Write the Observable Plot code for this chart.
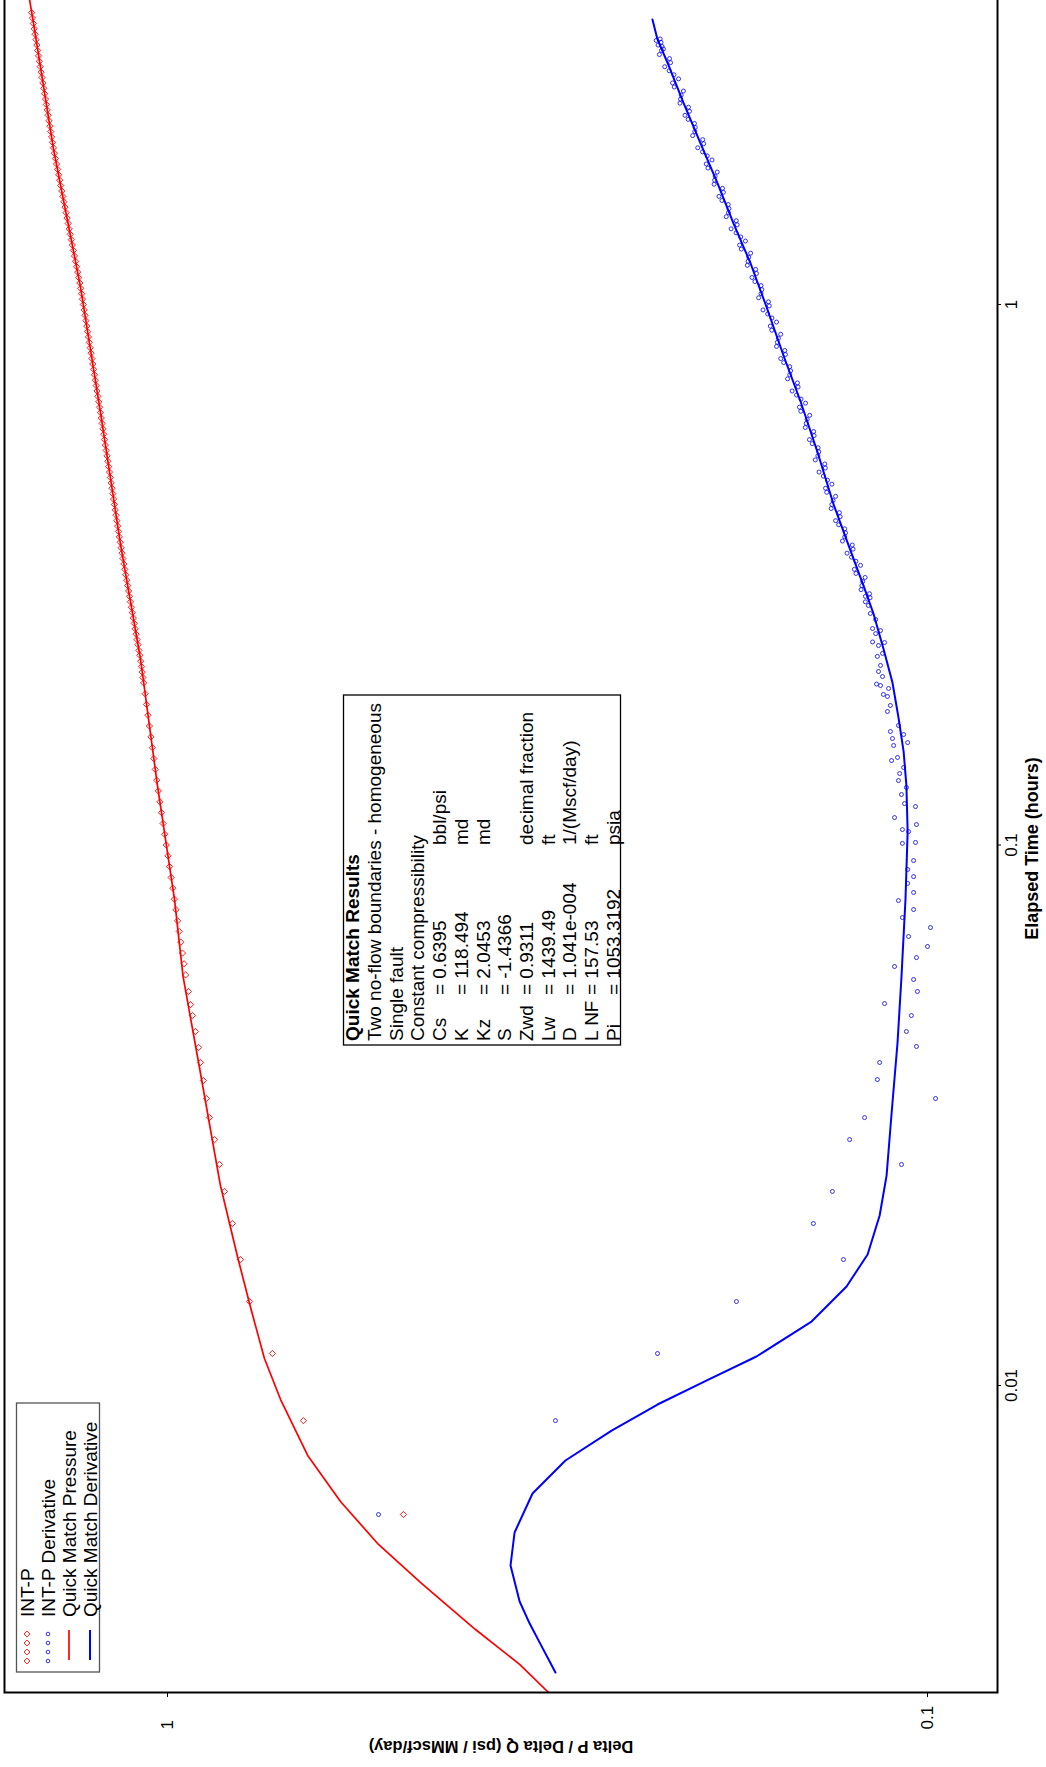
<!DOCTYPE html>
<html>
<head>
<meta charset="utf-8">
<script src="https://cdn.jsdelivr.net/npm/d3@7"></script>
<script src="https://cdn.jsdelivr.net/npm/@observablehq/plot@0.6"></script>
<style>
  html, body { margin: 0; padding: 0; background: #fff; }
  #wrap { position: relative; width: 1046px; height: 1767px; overflow: hidden; background: #fff; }
</style>
</head>
<body>
<div id="wrap"></div>
<script>
// ---------- DATA (elapsed time in hours, Delta P / Delta Q in psi / MMscf/day) ----------
const xTicks = [0.01, 0.1, 1];
const xTickLabels = ["0.01", "0.1", "1"];
const yTicks = [0.1, 1];
const yTickLabels = ["0.1", "1"];

const xTitle = "Elapsed Time (hours)";
const yTitle = "Delta P / Delta Q (psi / MMscf/day)";

const legendLabels = ["INT-P", "INT-P Derivative", "Quick Match Pressure", "Quick Match Derivative"];

const infoTitle = "Quick Match Results";
const infoLines = ["Two no-flow boundaries - homogeneous", "Single fault", "Constant compressibility"];
const paramNames = ["Cs", "K", "Kz", "S", "Zwd", "Lw", "D", "L NF", "Pi"];
const paramValues = ["= 0.6395", "= 118.494", "= 2.0453", "= -1.4366", "= 0.9311", "= 1439.49", "= 1.041e-004", "= 157.53", "= 1053.3192"];
const paramUnits = ["bbl/psi", "md", "md", "", "decimal fraction", "ft", "1/(Mscf/day)", "ft", "psia"];

// INT-P measured points [time, value]
const intP = [
[0.005771,0.4892],[0.00861,0.6624],[0.01146,0.7277],[0.0143,0.78],[0.0171,0.8016],[0.01994,0.8214],
[0.02286,0.8414],[0.02564,0.8543],[0.02851,0.8671],[0.03131,0.8806],[0.03396,0.8887],[0.03666,0.8968],
[0.03959,0.9049],[0.0422,0.9103],[0.04518,0.9187],[0.04836,0.927],[0.05068,0.9326],[0.05358,0.9384],
[0.0575,0.9465],[0.0603,0.951],[0.0631,0.9557],[0.0661,0.9603],[0.0692,0.9651],[0.0724,0.9698],
[0.0759,0.9745],[0.0794,0.9793],[0.0832,0.984],[0.0871,0.989],[0.0912,0.9938],[0.0955,0.9986],
[0.1,1.0037],[0.1047,1.0085],[0.1096,1.0134],[0.1148,1.0184],[0.1202,1.0233],[0.1259,1.0283],
[0.1318,1.0332],[0.138,1.0378],[0.1445,1.0423],[0.1514,1.0469],[0.1585,1.0515],[0.166,1.0563],
[0.1738,1.061],[0.182,1.0656],[0.1905,1.0703],[0.1995,1.075],[0.2089,1.0797],[0.2188,1.0844],
[0.2291,1.0904],[0.2399,1.0967],[0.2512,1.1028],[0.263,1.1092],[0.2754,1.1156],[0.2884,1.1218],
[0.302,1.1283],[0.3162,1.1348],[0.3311,1.1414],[0.3467,1.1477],[0.3631,1.1541],[0.3802,1.16],
[0.3981,1.1659],[0.4169,1.1715],[0.4365,1.1775],[0.4571,1.183],[0.4786,1.1892],[0.5012,1.1952],
[0.5248,1.201],[0.5495,1.2071],[0.5754,1.213],[0.6026,1.219],[0.631,1.2253],[0.6607,1.2315],
[0.6918,1.238],[0.7244,1.2443],[0.7586,1.2509],[0.7943,1.2575],[0.8318,1.2639],[0.871,1.2706],
[0.912,1.2771],[0.955,1.2838],[1.0,1.2904],[1.047,1.2972],[1.096,1.3044],[1.148,1.3129],
[1.202,1.3213],[1.259,1.3299],[1.318,1.3385],[1.38,1.3468],[1.445,1.3556],[1.514,1.3643],
[1.585,1.3732],[1.66,1.3821],[1.738,1.3907],[1.82,1.3996],[1.905,1.4087],[1.995,1.4169],
[2.089,1.4244],[2.188,1.432],[2.291,1.4396],[2.399,1.4472],[2.512,1.4549],[2.63,1.4626],
[2.754,1.4704],[2.884,1.4782],[3.02,1.4857],[3.162,1.4936],[3.311,1.5015],[3.467,1.5095],
[0.2041,1.0774],[0.2138,1.0821],[0.2244,1.0874],[0.2348,1.0936],[0.2455,1.0998],[0.257,1.106],
[0.2691,1.1124],[0.2818,1.1187],[0.2951,1.1251],[0.309,1.1316],[0.3236,1.1381],[0.3388,1.1446],
[0.3548,1.1509],[0.3716,1.1571],[0.3891,1.163],[0.4074,1.1687],[0.4266,1.1745],[0.4467,1.1803],
[0.4677,1.1861],[0.4898,1.1922],[0.5129,1.1981],[0.537,1.2041],[0.5623,1.2101],[0.5888,1.216],
[0.6166,1.2222],[0.6457,1.2284],[0.6761,1.2348],[0.7079,1.2412],[0.7413,1.2476],[0.7762,1.2542],
[0.8128,1.2607],[0.8511,1.2673],[0.8912,1.2739],[0.9333,1.2805],[0.9772,1.2871],[1.0233,1.2938],
[1.0715,1.3008],[1.1215,1.3087],[1.1749,1.3171],[1.23,1.3256],[1.2883,1.3342],[1.3487,1.3427],
[1.4122,1.3512],[1.4787,1.36],[1.5493,1.3688],[1.6219,1.3777],[1.6986,1.3864],[1.7785,1.3952],
[1.8624,1.4042],[1.9494,1.4128],[2.0415,1.4207],[2.1377,1.4282],[2.239,1.4358],[2.3444,1.4434],
[2.4549,1.4511],[2.5703,1.4588],[2.6912,1.4665],[2.8182,1.4743],[2.9512,1.482],[3.0904,1.4897],
[3.2357,1.4976],[3.388,1.5055]
];

// INT-P Derivative measured points [time, value]
const intPDeriv = [
[0.005771,0.5277],[0.00861,0.3087],[0.01146,0.2266],[0.0143,0.1784],[0.0171,0.129],[0.01994,0.1413],
[0.02286,0.1334],[0.02564,0.1082],[0.02851,0.1266],[0.03131,0.121],[0.03396,0.0976],[0.03682,0.1164],
[0.03959,0.1156],[0.04239,0.1034],[0.04518,0.1066],[0.04836,0.105],[0.05089,0.1139],[0.05358,0.1031],
[0.05638,0.1043],[0.05959,0.1105],[0.0619,0.1034],[0.0649,0.1],[0.06772,0.1059],[0.07036,0.0991],
[0.07342,0.1079],[0.07597,0.1043],[0.07892,0.1092],
[0.0817,0.1043],[0.0849,0.1062],[0.0874,0.1043],[0.0901,0.1062],[0.0936,0.1043],[0.1007,0.1079],
[0.1011,0.1037],[0.1059,0.1059],[0.1068,0.1079],[0.1124,0.1105],[0.1091,0.1034],[0.1178,0.1037],
[0.1193,0.1072],[0.124,0.1082],[0.1278,0.1066],[0.1316,0.1092],[0.1356,0.1088],[0.1391,0.1075],
[0.1433,0.1115],[0.1452,0.1095],[0.1528,0.1108],[0.1547,0.1062],[0.1574,0.1112],[0.1601,0.1075],
[0.1622,0.1119],[0.1664,0.1092],[0.1766,0.1129],[0.1812,0.1119],[0.1883,0.1129],[0.1899,0.1143],
[0.1948,0.1125],[0.1973,0.1153],[0.1985,0.1167],[0.205,0.1146],[0.2094,0.116],[0.2149,0.1153],
[0.2233,0.1164],[0.2262,0.1146],[0.2339,0.116],[0.2369,0.1139],[0.2375,0.1181],[0.2461,0.117],
[0.2493,0.1153],[0.2515,0.1181],[0.2613,0.117],[0.2681,0.1189],[0.2774,0.1196],[0.2884,0.1207],
[0.2818,0.1207],[0.2917,0.1192],[0.302,0.122],[0.3126,0.1208],[0.3236,0.1248],[0.335,0.1242],
[0.3467,0.1276],[0.3589,0.1256],[0.3715,0.1285],[0.3846,0.1285],[0.3981,0.1321],[0.4121,0.1306],
[0.4266,0.1336],[0.4416,0.1321],[0.4571,0.1362],[0.4732,0.1354],[0.4898,0.1389],[0.507,0.1365],
[0.5248,0.1394],[0.5433,0.1393],[0.5623,0.143],[0.5821,0.1412],[0.6026,0.1444],[0.6237,0.1429],
[0.6457,0.1474],[0.6683,0.1467],[0.6918,0.1507],[0.7161,0.1483],[0.7413,0.1518],[0.7674,0.1518],
[0.7943,0.156],[0.8222,0.1541],[0.8511,0.1576],[0.881,0.156],[0.912,0.161],[0.9441,0.1602],
[0.9772,0.1646],[1.0116,0.1619],[1.0471,0.1656],[1.0839,0.1656],[1.122,0.1702],[1.1614,0.1683],
[1.2023,0.1722],[1.2445,0.1709],[1.2882,0.1767],[1.3335,0.1761],[1.3804,0.1813],[1.4289,0.1785],
[1.4791,0.1828],[1.5311,0.1829],[1.5849,0.1881],[1.6406,0.1861],[1.6982,0.1906],[1.7579,0.1891],
[1.8197,0.1955],[1.8836,0.1949],[1.9498,0.2006],[2.0184,0.1976],[2.0893,0.2024],[2.1627,0.2026],
[2.2387,0.2085],[2.3174,0.2063],[2.3988,0.2113],[2.4831,0.2095],[2.5704,0.2165],[2.6607,0.2156],
[2.7542,0.2217],[2.851,0.2185],[2.9512,0.2239],[3.0549,0.2242],
[0.2867,0.119],[0.2968,0.1223],[0.3073,0.1217],[0.318,0.1242],[0.3292,0.1225],[0.3408,0.1259],
[0.3527,0.1253],[0.3651,0.1294],[0.378,0.1282],[0.3913,0.1309],[0.405,0.1303],[0.4193,0.1339],
[0.434,0.1331],[0.4493,0.1357],[0.4651,0.1336],[0.4814,0.1371],[0.4983,0.1363],[0.5158,0.1405],
[0.5339,0.139],[0.5528,0.1418],[0.5721,0.141],[0.5922,0.1448],[0.6131,0.144],[0.6346,0.1468],
[0.6569,0.1447],[0.6799,0.1487],[0.7038,0.148],[0.7286,0.1528],[0.7542,0.1514],[0.7808,0.1546],
[0.8081,0.1538],[0.8365,0.158],[0.8659,0.1571],[0.8963,0.1603],[0.9279,0.158],[0.9605,0.1623],
[0.9942,0.1615],[1.0292,0.1668],[1.0653,0.1652],[1.1028,0.1687],[1.1415,0.1679],[1.1816,0.1726],
[1.2232,0.1719],[1.2662,0.1758],[1.3106,0.1736],[1.3567,0.1786],[1.4044,0.178],[1.4538,0.184],
[1.5049,0.1825],[1.5577,0.1864],[1.6125,0.1856],[1.6692,0.1909],[1.7278,0.1903],[1.7885,0.1945],
[1.8514,0.1921],[1.9164,0.1977],[1.9838,0.197],[2.0536,0.2037],[2.1257,0.2021],[2.2003,0.2065],
[2.2777,0.2057],[2.3577,0.2117],[2.4405,0.2109],[2.5263,0.2154],[2.6151,0.2126],[2.707,0.2187],
[2.8021,0.2178],[2.9006,0.2253],[3.0025,0.2235],[3.08,0.2275],[3.02,0.2262],[2.97,0.2226],[3.1,0.2248]
];

// Quick Match Pressure model line [time, value]
const matchPressure = [
[0.00241,0.2897],[0.002704,0.3152],[0.003048,0.3441],[0.003536,0.3933],[0.004305,0.4632],[0.00508,0.5277],
[0.0061,0.5921],[0.007424,0.654],[0.00942,0.7099],[0.01122,0.7455],[0.01394,0.7775],[0.01733,0.809],
[0.02344,0.8518],[0.03876,0.9077],[0.0572,0.9541],[0.0793,0.979],[0.1289,1.031],[0.2204,1.085],
[0.36,1.153],[0.631,1.225],[1.08,1.302],[1.944,1.413],[3.32,1.501],[3.67,1.519],[3.8,1.525]
];

// Quick Match Derivative model line [time, value]
const matchDeriv = [
[0.002944,0.3087],[0.003319,0.3229],[0.003631,0.3339],[0.003985,0.3441],[0.004645,0.3537],[0.005346,0.3494],
[0.006313,0.3309],[0.007264,0.2995],[0.008254,0.2604],[0.009222,0.2266],[0.010258,0.1942],[0.011316,0.1679],
[0.013131,0.1421],[0.015245,0.1278],[0.017473,0.1199],[0.020633,0.1156],[0.024453,0.1132],[0.03186,0.1115],
[0.04311,0.1095],[0.05709,0.1082],[0.07928,0.1069],[0.1059,0.1062],[0.1288,0.1066],[0.1489,0.1075],
[0.1722,0.1092],[0.1998,0.1112],[0.231,0.1143],[0.2681,0.1178],[0.302,0.1214],[0.3507,0.1263],
[0.4266,0.1329],[0.5323,0.1395],[0.6615,0.1469],[0.8047,0.1547],[0.9789,0.1624],[1.191,0.1709],
[1.4124,0.18],[1.675,0.1889],[1.986,0.1989],[2.364,0.2095],[2.804,0.2199],[3.093,0.2266],[3.368,0.2301]
];

// ---------- RENDER ----------
const FONT = "'Liberation Sans', Arial, Helvetica, sans-serif";
const RED = "#ff0000", BLUE = "#0000ff";
const W = 1772, H = 1046;

const chart = Plot.plot({
  width: W,
  height: H,
  marginLeft: 74,
  marginRight: 0,
  marginTop: 4,
  marginBottom: 49,
  style: { fontFamily: FONT, fontSize: "17px", color: "black", background: "white", overflow: "visible" },
  x: { type: "log", domain: [0.002704, 3.746], label: null },
  y: { type: "log", domain: [0.08089, 1.6386], label: null },
  marks: [
    Plot.axisX({ ticks: xTicks, tickFormat: d => xTickLabels[xTicks.indexOf(d)], tickSize: 4, tickPadding: 3, label: null, fontSize: 17 }),
    Plot.axisY({ ticks: yTicks, tickFormat: d => yTickLabels[yTicks.indexOf(d)], tickSize: 4, tickPadding: 33, textAnchor: "start", label: null, fontSize: 17 }),
    Plot.dot(intP, { x: d => d[0], y: d => d[1], symbol: "diamond2", r: 2.8, stroke: RED, strokeWidth: 0.9, clip: true }),
    Plot.dot(intPDeriv, { x: d => d[0], y: d => d[1], symbol: "circle", r: 2, stroke: BLUE, fill: "none", strokeWidth: 0.8, clip: true }),
    Plot.line(matchPressure, { x: d => d[0], y: d => d[1], stroke: RED, strokeWidth: 1.7, clip: true }),
    Plot.line(matchDeriv, { x: d => d[0], y: d => d[1], stroke: BLUE, strokeWidth: 2, clip: true }),
    Plot.frame({ stroke: "black", strokeWidth: 2 }),
    Plot.text([xTitle], { text: d => d, frameAnchor: "bottom", textAnchor: "middle", dy: 40, dx: -5, fontWeight: "bold", fontSize: 18 }),
    Plot.text([yTitle], { text: d => d, frameAnchor: "left", textAnchor: "middle", lineAnchor: "middle", dx: -54, rotate: -90, fontWeight: "bold", fontSize: 16.5 })
  ]
});

// ----- legend (top-left of the unrotated plot) -----
const svg = d3.select(chart);
const lg = svg.append("g").attr("font-family", FONT).attr("font-size", 19).attr("fill", "black").attr("text-anchor", "start");
lg.append("rect").attr("x", 95).attr("y", 16.5).attr("width", 269).attr("height", 83)
  .attr("fill", "white").attr("stroke", "#555").attr("stroke-width", 1.3);
const rowY = [27, 48, 69, 90];
const symX = [106, 115, 124, 133];
legendLabels.forEach((lab, i) => {
  lg.append("text").attr("x", 150).attr("y", rowY[i]).attr("dy", "0.36em").text(lab);
});
symX.forEach(sx => {
  lg.append("path").attr("d", d3.symbol(d3.symbolDiamond2, 22)()).attr("transform", `translate(${sx},${rowY[0]})`)
    .attr("fill", "none").attr("stroke", RED).attr("stroke-width", 0.9);
  lg.append("circle").attr("cx", sx).attr("cy", rowY[1]).attr("r", 1.8)
    .attr("fill", "none").attr("stroke", BLUE).attr("stroke-width", 0.8);
});
lg.append("line").attr("x1", 107).attr("x2", 137).attr("y1", rowY[2]).attr("y2", rowY[2]).attr("stroke", RED).attr("stroke-width", 1.7);
lg.append("line").attr("x1", 107).attr("x2", 137).attr("y1", rowY[3]).attr("y2", rowY[3]).attr("stroke", BLUE).attr("stroke-width", 2);

// ----- Quick Match Results box -----
const ib = svg.append("g").attr("font-family", FONT).attr("font-size", 19).attr("fill", "black").attr("text-anchor", "start");
ib.append("rect").attr("x", 722).attr("y", 343.5).attr("width", 350).attr("height", 277)
  .attr("fill", "white").attr("stroke", "black").attr("stroke-width", 1.3);
const lineY = i => 352.5 + 21.7 * i;
ib.append("text").attr("x", 726).attr("y", lineY(0)).attr("dy", "0.36em").attr("font-weight", "bold").text(infoTitle);
infoLines.forEach((t, i) => ib.append("text").attr("x", 726).attr("y", lineY(i + 1)).attr("dy", "0.36em").text(t));
paramNames.forEach((n, i) => {
  const y = lineY(i + 4);
  ib.append("text").attr("x", 726).attr("y", y).attr("dy", "0.36em").text(n);
  ib.append("text").attr("x", 772).attr("y", y).attr("dy", "0.36em").text(paramValues[i]);
  if (paramUnits[i]) ib.append("text").attr("x", 922).attr("y", y).attr("dy", "0.36em").text(paramUnits[i]);
});

// ----- rotate the whole figure 90° counter-clockwise into the 1046 x 1767 page -----
chart.style.position = "absolute";
chart.style.left = "0px";
chart.style.top = "0px";
chart.style.maxWidth = "none";
chart.style.width = W + "px";
chart.style.height = H + "px";
chart.style.transformOrigin = "0 0";
chart.style.transform = "translate(0px, 1767px) rotate(-90deg)";
document.getElementById("wrap").appendChild(chart);
</script>
</body>
</html>
